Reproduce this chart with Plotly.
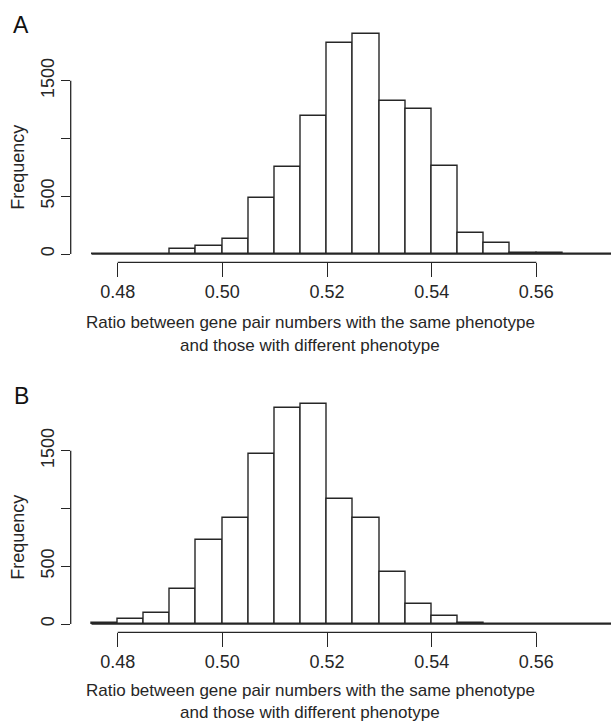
import plotly.graph_objects as go

# ---- data ----
bin_left = [0.475, 0.480, 0.485, 0.490, 0.495, 0.500, 0.505, 0.510, 0.515, 0.520,
            0.525, 0.530, 0.535, 0.540, 0.545, 0.550, 0.555, 0.560, 0.565, 0.570]
bin_width = 0.005
counts_A = [0, 0, 0, 46, 72, 133, 486, 757, 1194, 1827,
            1905, 1324, 1254, 766, 185, 92, 12, 10, 0, 0]
counts_B = [8, 46, 92, 303, 723, 916, 1471, 1870, 1905, 1084,
            916, 454, 173, 72, 10, 0, 0, 0, 0, 0]
x_ticks = [0.48, 0.50, 0.52, 0.54, 0.56]
x_tick_labels = ["0.48", "0.50", "0.52", "0.54", "0.56"]
y_ticks = [0, 500, 1000, 1500]
y_tick_labels = ["0", "500", "", "1500"]
x_title_lines = ["Ratio between gene pair numbers with the same phenotype",
                 "and those with different phenotype"]
y_title = "Frequency"
panel_labels = ["A", "B"]

W, H = 611, 723
FONT = "Liberation Sans, Arial, sans-serif"
INK = "#262626"

centers = [b + bin_width / 2 for b in bin_left]

fig = go.Figure()
fig.add_trace(go.Bar(x=centers, y=counts_A, width=bin_width, xaxis="x", yaxis="y",
                     marker=dict(color="white", line=dict(color=INK, width=1.4)),
                     showlegend=False))
fig.add_trace(go.Bar(x=centers, y=counts_B, width=bin_width, xaxis="x2", yaxis="y2",
                     marker=dict(color="white", line=dict(color=INK, width=1.4)),
                     showlegend=False))

xdom = [70.7 / W, 1.0]
xrange = [0.47102, 0.57427]
yrange = [-71.8, 1982.2]
domA = [1 - 262.3 / H, 1 - 25 / H]
domB = [1 - 632.3 / H, 1 - 395 / H]

xax = dict(range=xrange, domain=xdom, tickvals=x_ticks, ticktext=x_tick_labels,
           ticks="outside", ticklen=13.5, tickwidth=1.3, tickcolor=INK,
           showline=False, showgrid=False, zeroline=False,
           tickfont=dict(family=FONT, size=18, color=INK), fixedrange=True)
yax = dict(range=yrange, tickvals=y_ticks, ticktext=y_tick_labels,
           ticks="outside", ticklen=9, tickwidth=1.3, tickcolor=INK, tickangle=-90,
           showline=False, showgrid=False, zeroline=False,
           tickfont=dict(family=FONT, size=18, color=INK), fixedrange=True)

fig.update_layout(
    width=W, height=H, margin=dict(l=0, r=0, t=0, b=0),
    paper_bgcolor="white", plot_bgcolor="white", bargap=0,
    xaxis=dict(xax, anchor="y"),
    yaxis=dict(yax, domain=domA, anchor="x"),
    xaxis2=dict(xax, anchor="y2"),
    yaxis2=dict(yax, domain=domB, anchor="x2"),
)

shapes = []
annotations = []
for xa, ya, title_y in (("x", "y", (322, 345)), ("x2", "y2", (690, 712))):
    # x axis line (first to last tick)
    shapes.append(dict(type="line", xref=xa, yref=ya + " domain", x0=x_ticks[0], x1=x_ticks[-1],
                       y0=0, y1=0, line=dict(color=INK, width=1.3)))
    # y axis line (first to last tick)
    shapes.append(dict(type="line", xref=xa + " domain", yref=ya, x0=0, x1=0,
                       y0=y_ticks[0], y1=y_ticks[-1], line=dict(color=INK, width=1.3)))
    # histogram baseline across all bins
    shapes.append(dict(type="line", xref=xa, yref=ya, x0=bin_left[0], x1=bin_left[-1] + bin_width,
                       y0=0, y1=0, line=dict(color=INK, width=1.4)))
    annotations.append(dict(xref="paper", yref=ya, x=18.5 / W, y=750, text=y_title, textangle=-90,
                            showarrow=False, xanchor="center", yanchor="middle",
                            font=dict(family=FONT, size=18, color=INK)))
    for line, yc in zip(x_title_lines, title_y):
        annotations.append(dict(xref="paper", yref="paper", x=310 / W, y=1 - yc / H,
                                text=line, showarrow=False, xanchor="center", yanchor="middle",
                                borderpad=0, font=dict(family=FONT, size=17, color=INK)))
for lab, yc in zip(panel_labels, (25, 396)):
    annotations.append(dict(xref="paper", yref="paper", x=21 / W, y=1 - yc / H, text=lab,
                            showarrow=False, xanchor="center", yanchor="middle",
                            font=dict(family=FONT, size=23, color="#111")))

fig.update_layout(shapes=shapes, annotations=annotations)
fig.write_html("out.html", config={"displayModeBar": False},
               post_script="document.body.style.margin='0';")
